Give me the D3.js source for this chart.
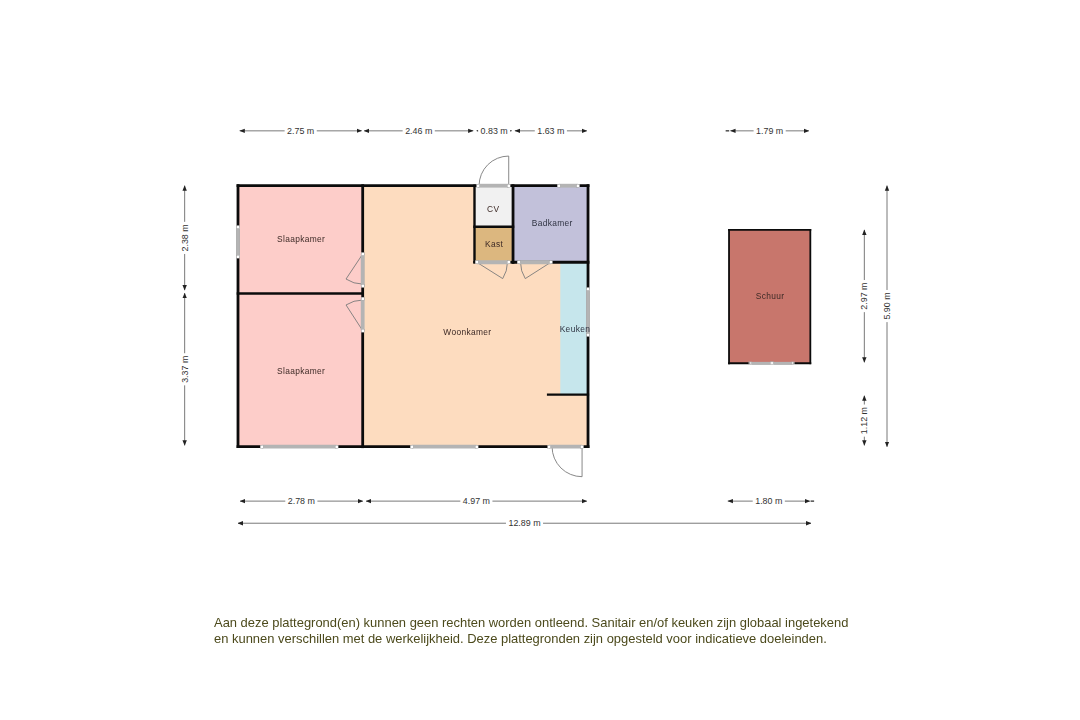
<!DOCTYPE html>
<html><head><meta charset="utf-8">
<style>
html,body{margin:0;padding:0;background:#fff}
svg{display:block;filter:blur(0.35px)}
text{font-family:"Liberation Sans",Arial,sans-serif}
</style>
<script src="https://cdn.jsdelivr.net/npm/d3@7/dist/d3.min.js"></script>
</head><body><svg id="c" width="1080" height="720"></svg>
<script>
// All plan geometry is in metres from the top-left corner of the house.
const roomNames  = ["Woonkamer","Slaapkamer","Slaapkamer","CV","Kast","Badkamer","Keuken","Schuur"];
const roomX0     = [2.805,0,0,5.32,5.32,6.187,7.25,11.046];
const roomX1     = [7.874,2.805,2.805,6.187,6.187,7.874,7.874,12.875];
const roomY0     = [0,0,2.437,0,0.927,0,1.73,1.0];
const roomY1     = [5.9,2.437,5.9,0.927,1.73,1.73,4.724,4.014];
const roomFill   = ["#fddcbf","#fdcdc9","#fdcdc9","#f1f1f1","#dcb77f","#c2c1da","#c6e6ec","#c8766c"];
const roomLabelX = [5.16,1.42,1.42,5.74,5.76,7.07,7.58,11.97];
const roomLabelY = [3.33,1.22,4.2,0.54,1.33,0.86,3.25,2.5];

const wallX0 = [0,0,7.874,0,2.805,2.805,2.805,0,5.32,6.187,5.32,5.32,6.187,6.974, 11.046,11.046,12.875,11.046];
const wallY0 = [0,0,0,5.9,0,2.267,3.278,2.437,0,0,0.927,1.73,1.73,4.724, 1.0,4.014,1.0,1.0];
const wallX1 = [7.874,0,7.874,7.874,2.805,2.805,2.805,2.805,5.32,6.187,6.187,6.187,7.874,7.874, 12.875,12.875,12.875,11.046];
const wallY1 = [0,5.9,5.9,5.9,2.267,2.554,5.9,2.437,1.73,1.73,0.927,1.73,1.73,4.724, 1.0,4.014,4.014,4.014];
const wallW  = [2.8,2.8,2.8,2.8,2.8,2.8,2.8,2.6,2.4,2.8,2.4,2.4,2.8,2.2, 1.8,1.8,1.8,1.8];

const openX0 = [0,5.40,7.215,2.805,2.805,7.874,0.533,3.908,6.997,5.37,6.314,11.52,12.01];
const openY0 = [0.934,0,0,1.544,2.554,2.335,5.9,5.9,5.9,1.73,1.73,4.014,4.014];
const openX1 = [0,6.09,7.65,2.805,2.805,7.874,2.22,5.37,7.74,6.09,7.04,12.01,12.49];
const openY1 = [1.605,0,0,2.267,3.278,3.375,5.9,5.9,5.9,1.73,1.73,4.014,4.014];

const doorHX = [6.09,5.37,7.04,2.805,2.805,7.74];
const doorHY = [0,1.73,1.73,1.544,3.278,5.9];
const doorTX = [6.09,5.955,6.462,2.43,2.43,7.74];
const doorTY = [-0.67,2.10,2.10,2.11,2.696,6.578];
const doorCX = [5.40,6.09,6.314,2.805,2.805,6.997];
const doorCY = [0,1.73,1.73,2.267,2.554,5.9];

const dimLabels = ["2.75 m","2.46 m","0.83 m","1.63 m","1.79 m","2.38 m","3.37 m","2.97 m","1.12 m","5.90 m","2.78 m","4.97 m","1.80 m","12.89 m"];
const dimX0 = [0.04,2.84,5.37,6.23,11.08,-1.2,-1.2,14.09,14.09,14.6,0.045,2.88,11.02,0];
const dimY0 = [-1.24,-1.24,-1.24,-1.24,-1.24,0,2.43,1.0,4.75,0,7.13,7.13,7.13,7.63];
const dimX1 = [2.78,5.29,6.155,7.845,12.84,-1.2,-1.2,14.09,14.09,14.6,2.805,7.845,12.86,12.89];
const dimY1 = [-1.24,-1.24,-1.24,-1.24,-1.24,2.36,5.87,3.99,5.87,5.9,7.13,7.13,7.13,7.63];
const dimLabelAt = [null,null,null,null,null,null,null,null,null,2.72,null,null,null,null];

const stubX0 = [10.97,12.88], stubX1 = [11.05,12.96], stubY = [-1.24,7.13];

const footer = [
  "Aan deze plattegrond(en) kunnen geen rechten worden ontleend. Sanitair en/of keuken zijn globaal ingetekend",
  "en kunnen verschillen met de werkelijkheid. Deze plattegronden zijn opgesteld voor indicatieve doeleinden."
];

const x = d3.scaleLinear().domain([0,12.89]).range([238,811]);
const y = d3.scaleLinear().domain([0,5.9]).range([185.7,446.7]);
const svg = d3.select("#c");

svg.append("defs").append("marker").attr("id","ah")
  .attr("viewBox","0 0 6 6").attr("refX",5.5).attr("refY",3)
  .attr("markerWidth",5.5).attr("markerHeight",5.5).attr("markerUnits","userSpaceOnUse")
  .attr("orient","auto-start-reverse")
  .append("path").attr("d","M0,0.6L6,3L0,5.4Z").attr("fill","#222");

const plan = svg.append("g");

// rooms
plan.selectAll("rect.room").data(roomNames).join("rect").attr("class","room")
  .attr("x",(d,i)=>x(roomX0[i])).attr("y",(d,i)=>y(roomY0[i]))
  .attr("width",(d,i)=>x(roomX1[i])-x(roomX0[i])).attr("height",(d,i)=>y(roomY1[i])-y(roomY0[i]))
  .attr("fill",(d,i)=>roomFill[i]);

// walls
plan.selectAll("line.wall").data(wallX0).join("line").attr("class","wall")
  .attr("x1",(d,i)=>x(wallX0[i])).attr("y1",(d,i)=>y(wallY0[i]))
  .attr("x2",(d,i)=>x(wallX1[i])).attr("y2",(d,i)=>y(wallY1[i]))
  .attr("stroke","#0b0b0b").attr("stroke-width",(d,i)=>wallW[i]).attr("stroke-linecap","square");

// door leaves
plan.selectAll("path.door").data(doorHX).join("path").attr("class","door")
  .attr("fill","none").attr("stroke","#7a7a7a").attr("stroke-width",0.9)
  .attr("d",(d,i)=>{
    const hx=x(doorHX[i]),hy=y(doorHY[i]),tx=x(doorTX[i]),ty=y(doorTY[i]),cx=x(doorCX[i]),cy=y(doorCY[i]);
    const a0=Math.atan2(ty-hy,tx-hx),a1=Math.atan2(cy-hy,cx-hx);
    let da=a1-a0; while(da>Math.PI)da-=2*Math.PI; while(da<-Math.PI)da+=2*Math.PI;
    const p=d3.path();
    p.moveTo(hx,hy);p.lineTo(tx,ty);
    p.arc(hx,hy,Math.hypot(tx-hx,ty-hy),a0,a1,da<0);
    return p.toString();
  });

// windows and door openings
plan.selectAll("line.open").data(openX0).join("line").attr("class","open")
  .attr("x1",(d,i)=>x(openX0[i])).attr("y1",(d,i)=>y(openY0[i]))
  .attr("x2",(d,i)=>x(openX1[i])).attr("y2",(d,i)=>y(openY1[i]))
  .attr("stroke","#b4b4b4").attr("stroke-width",(d,i)=>i>10?2.8:3.8);
const ends = openX0.flatMap((d,i)=>[[openX0[i],openY0[i],i],[openX1[i],openY1[i],i]]);
plan.selectAll("rect.end").data(ends).join("rect").attr("class","end")
  .attr("x",d=>x(d[0])-1.5).attr("y",d=>y(d[1])-1.5).attr("width",3).attr("height",3)
  .attr("fill","#fff").attr("stroke","#9a9a9a").attr("stroke-width",0.4)
  .attr("opacity",d=>d[2]>10?0.6:1);

// room names
plan.selectAll("text.room").data(roomNames).join("text").attr("class","room")
  .attr("x",(d,i)=>x(roomLabelX[i])).attr("y",(d,i)=>y(roomLabelY[i]))
  .attr("text-anchor","middle").attr("dominant-baseline","middle")
  .attr("font-size",8.4).attr("letter-spacing",0.35)
  .attr("fill",(d,i)=>i===5||i===6?"#2f3342":"#3d2a26").text(d=>d);

// dimension lines
const dims = svg.append("g");
dims.selectAll("line.dim").data(dimLabels).join("line").attr("class","dim")
  .attr("x1",(d,i)=>x(dimX0[i])).attr("y1",(d,i)=>y(dimY0[i]))
  .attr("x2",(d,i)=>x(dimX1[i])).attr("y2",(d,i)=>y(dimY1[i]))
  .attr("stroke","#6a6a6a").attr("stroke-width",0.9)
  .attr("marker-start","url(#ah)").attr("marker-end","url(#ah)");
dims.selectAll("line.stub").data(stubX0).join("line").attr("class","stub")
  .attr("x1",(d,i)=>x(stubX0[i])).attr("x2",(d,i)=>x(stubX1[i]))
  .attr("y1",(d,i)=>y(stubY[i])).attr("y2",(d,i)=>y(stubY[i]))
  .attr("stroke","#222").attr("stroke-width",1.2);
dimLabels.forEach((d,i)=>{
  const vert = dimX0[i]===dimX1[i];
  const cx = vert ? x(dimX0[i]) : (x(dimX0[i])+x(dimX1[i]))/2;
  const cy = vert ? (dimLabelAt[i]!==null ? y(dimLabelAt[i]) : (y(dimY0[i])+y(dimY1[i]))/2) : y(dimY0[i]);
  const g = dims.append("g").attr("transform",`translate(${cx},${cy})${vert?" rotate(-90)":""}`);
  const r = g.append("rect").attr("fill","#fff");
  const t = g.append("text").attr("text-anchor","middle").attr("dominant-baseline","central")
    .attr("font-size",8.9).attr("fill","#333").text(d);
  const w = t.node().getComputedTextLength()+5;
  r.attr("x",-w/2).attr("y",-5).attr("width",w).attr("height",10);
});

// footer
svg.append("g").selectAll("text").data(footer).join("text")
  .attr("x",214).attr("y",(d,i)=>627+i*16)
  .attr("font-size",12.95).attr("fill","#4c4a1c").text(d=>d);
</script></body></html>
